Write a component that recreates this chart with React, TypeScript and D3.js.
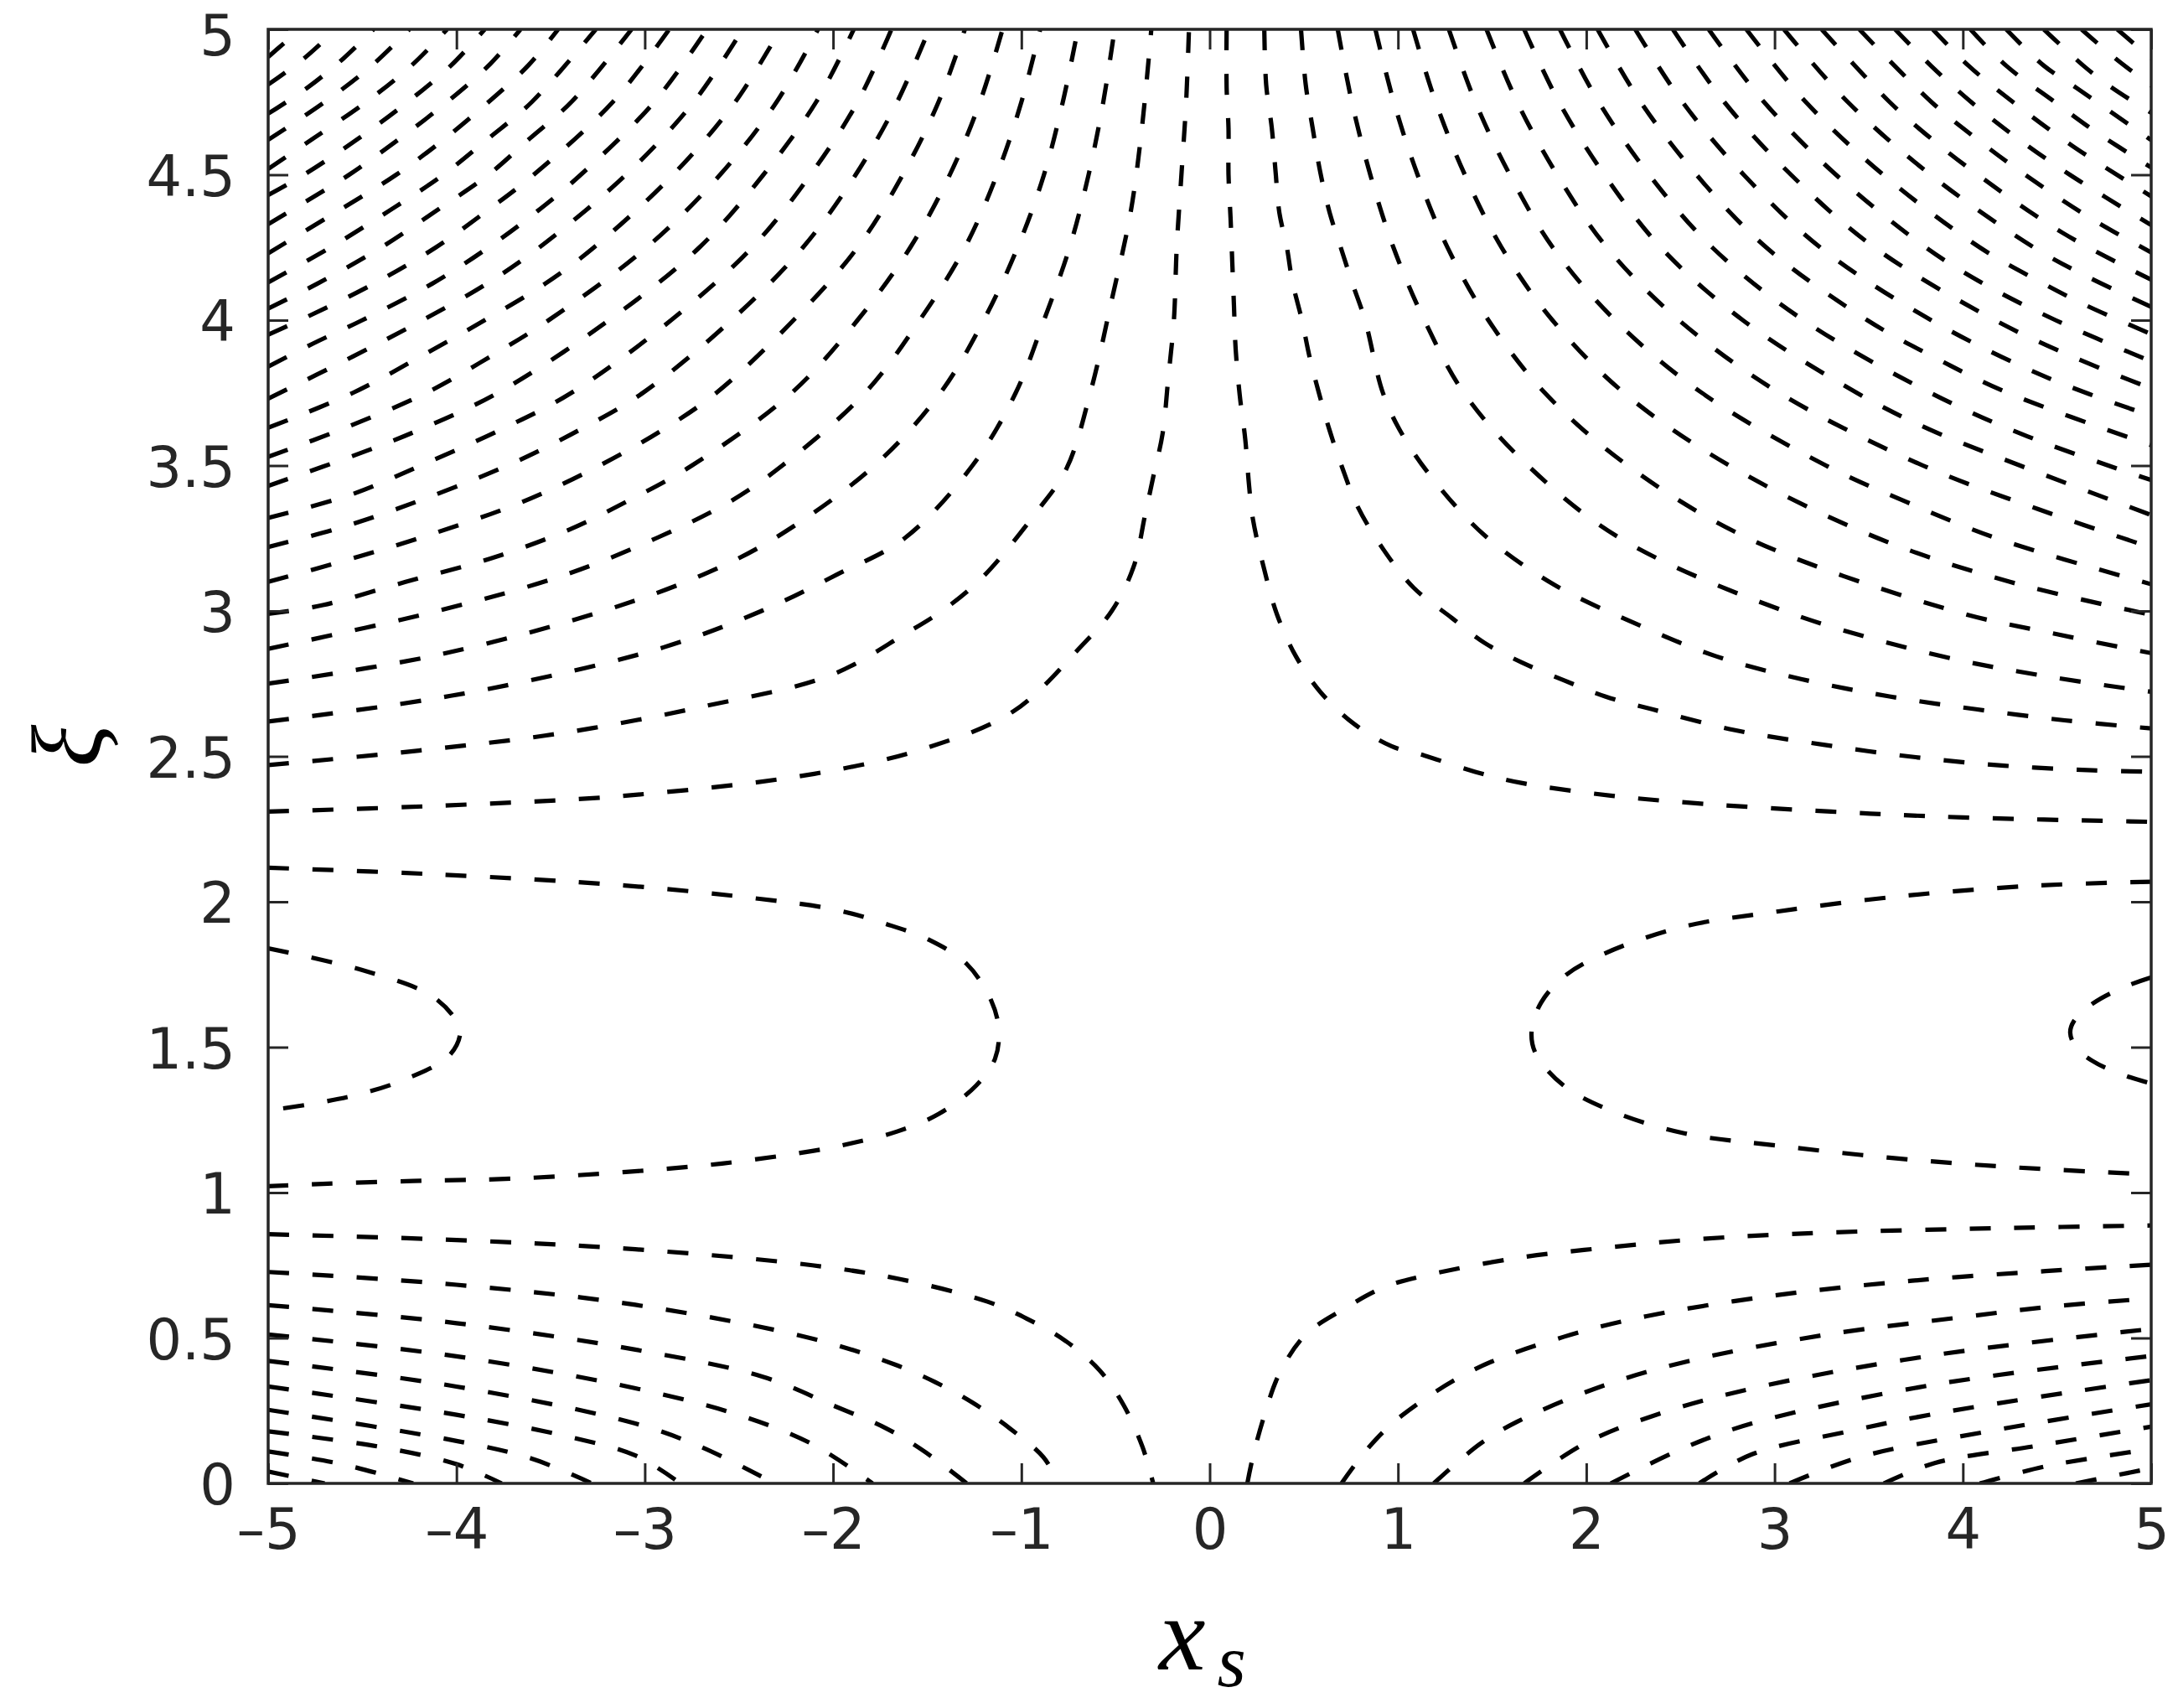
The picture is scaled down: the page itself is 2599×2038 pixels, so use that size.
import React, { useEffect, useRef } from 'react';
import * as d3 from 'd3';

type Pt = [number, number];

const xTicks = [-5, -4, -3, -2, -1, 0, 1, 2, 3, 4, 5];
const yTicks = [0, 0.5, 1, 1.5, 2, 2.5, 3, 3.5, 4, 4.5, 5];
const yTickLabels = ['0', '0.5', '1', '1.5', '2', '2.5', '3', '3.5', '4', '4.5', '5'];

// contour lines, [x_s, xi] pairs
// upper left family: left edge -> top edge
const upperLeftLines: Pt[][] = [
  [[-5, 2.31], [-4.1, 2.33], [-3.1, 2.365], [-2.1, 2.44], [-1.5, 2.53], [-1.04, 2.656], [-0.685, 2.877], [-0.52, 3.0], [-0.405, 3.15], [-0.343, 3.33], [-0.3, 3.46], [-0.25, 3.61], [-0.22, 3.8], [-0.19, 4.0], [-0.175, 4.25], [-0.15, 4.5], [-0.125, 4.75], [-0.11, 5]],
  [[-5, 2.47], [-4.2, 2.52], [-3.44, 2.58], [-2.7, 2.67], [-2.01, 2.78], [-1.62, 2.92], [-1.4, 3.01], [-1.2, 3.12], [-0.92, 3.34], [-0.76, 3.49], [-0.63, 3.76], [-0.52, 4.07], [-0.42, 4.37], [-0.36, 4.66], [-0.31, 5]],
  [[-5, 2.62], [-4.3, 2.68], [-3.69, 2.75], [-2.9, 2.875], [-2.38, 3.0], [-1.98, 3.125], [-1.62, 3.25], [-1.26, 3.5], [-1.03, 3.75], [-0.88, 4.0], [-0.744, 4.25], [-0.643, 4.5], [-0.565, 4.75], [-0.505, 5]],
  [[-5, 2.75], [-4.09, 2.85], [-3.22, 3.0], [-2.69, 3.125], [-2.31, 3.25], [-1.78, 3.5], [-1.43, 3.75], [-1.2, 4.0], [-1.02, 4.25], [-0.88, 4.5], [-0.78, 4.75], [-0.7, 5]],
  [[-5, 2.87], [-4.1, 3.0], [-3.42, 3.125], [-2.94, 3.25], [-2.55, 3.375], [-2.27, 3.5], [-1.83, 3.75], [-1.54, 4.0], [-1.3, 4.25], [-1.13, 4.5], [-1.0, 4.75], [-0.9, 5]],
  [[-5, 2.99], [-4.71, 3.02], [-4.27, 3.1], [-3.82, 3.18], [-3.4, 3.28], [-3.1, 3.375], [-2.75, 3.5], [-2.22, 3.75], [-1.87, 4.0], [-1.59, 4.25], [-1.38, 4.5], [-1.22, 4.75], [-1.1, 5]],
  [[-5, 3.1], [-4.61, 3.17], [-4.2, 3.25], [-3.65, 3.375], [-3.24, 3.5], [-2.9, 3.625], [-2.62, 3.75], [-2.21, 4.0], [-1.87, 4.25], [-1.63, 4.5], [-1.44, 4.75], [-1.3, 5]],
  [[-5, 3.22], [-4.65, 3.28], [-4.32, 3.35], [-3.73, 3.5], [-3.34, 3.625], [-3.01, 3.75], [-2.54, 4.0], [-2.16, 4.25], [-1.88, 4.5], [-1.66, 4.75], [-1.49, 5]],
  [[-5, 3.32], [-4.56, 3.4], [-4.19, 3.5], [-3.76, 3.625], [-3.39, 3.75], [-2.86, 4.0], [-2.43, 4.25], [-2.12, 4.5], [-1.87, 4.75], [-1.69, 5]],
  [[-5, 3.43], [-4.48, 3.55], [-4.19, 3.625], [-3.78, 3.75], [-3.19, 4.0], [-2.71, 4.25], [-2.37, 4.5], [-2.09, 4.75], [-1.89, 5]],
  [[-5, 3.53], [-4.61, 3.625], [-4.16, 3.75], [-3.82, 3.875], [-3.51, 4.0], [-2.99, 4.25], [-2.6, 4.5], [-2.3, 4.75], [-2.08, 5]],
  [[-5, 3.63], [-4.55, 3.75], [-4.19, 3.875], [-3.85, 4.0], [-3.53, 4.125], [-3.27, 4.25], [-2.85, 4.5], [-2.52, 4.75], [-2.28, 5]],
  [[-5, 3.73], [-4.55, 3.875], [-4.18, 4.0], [-3.84, 4.125], [-3.56, 4.25], [-3.1, 4.5], [-2.74, 4.75], [-2.48, 5]],
  [[-5, 3.84], [-4.76, 3.92], [-4.5, 4.0], [-4.13, 4.125], [-3.83, 4.25], [-3.57, 4.375], [-3.34, 4.5], [-2.95, 4.75], [-2.67, 5]],
  [[-5, 3.95], [-4.83, 4.0], [-4.44, 4.125], [-4.11, 4.25], [-3.84, 4.375], [-3.59, 4.5], [-3.17, 4.75], [-2.87, 5]],
  [[-5, 4.04], [-4.74, 4.125], [-4.4, 4.25], [-4.11, 4.375], [-3.83, 4.5], [-3.61, 4.625], [-3.39, 4.75], [-3.07, 5]],
  [[-5, 4.13], [-4.67, 4.25], [-4.36, 4.375], [-4.07, 4.5], [-3.83, 4.625], [-3.6, 4.75], [-3.26, 5]],
  [[-5, 4.23], [-4.63, 4.375], [-4.32, 4.5], [-4.06, 4.625], [-3.83, 4.75], [-3.62, 4.875], [-3.46, 5]],
  [[-5, 4.33], [-4.82, 4.4], [-4.57, 4.5], [-4.3, 4.625], [-4.05, 4.75], [-3.83, 4.875], [-3.66, 5]],
  [[-5, 4.43], [-4.81, 4.5], [-4.52, 4.625], [-4.26, 4.75], [-4.03, 4.875], [-3.85, 5]],
  [[-5, 4.52], [-4.76, 4.625], [-4.48, 4.75], [-4.24, 4.875], [-4.05, 5]],
  [[-5, 4.62], [-4.7, 4.75], [-4.45, 4.875], [-4.25, 5]],
  [[-5, 4.71], [-4.79, 4.8], [-4.6, 4.9], [-4.44, 5]],
  [[-5, 4.81], [-4.81, 4.9], [-4.64, 5]],
  [[-5, 4.905], [-4.92, 4.95], [-4.83, 5]],
];

// upper right family: top edge -> right edge
const upperRightLines: Pt[][] = [
  [[0.09, 5], [0.09, 4.8], [0.1, 4.66], [0.1, 4.5], [0.111, 4.35], [0.12, 4.2], [0.129, 4.05], [0.138, 3.9], [0.16, 3.74], [0.189, 3.59], [0.209, 3.433], [0.229, 3.318], [0.29, 3.142], [0.358, 2.987], [0.458, 2.844], [0.587, 2.722], [0.766, 2.612], [0.966, 2.535], [1.14, 2.503], [1.41, 2.447], [1.66, 2.408], [2.13, 2.365], [2.62, 2.337], [3.3, 2.31], [4.0, 2.29], [5, 2.275]],
  [[0.29, 5], [0.3, 4.81], [0.33, 4.66], [0.35, 4.51], [0.37, 4.37], [0.41, 4.25], [0.44, 4.13], [0.49, 4.0], [0.53, 3.875], [0.58, 3.75], [0.635, 3.625], [0.7, 3.5], [0.785, 3.36], [0.924, 3.21], [1.083, 3.08], [1.286, 2.976], [1.46, 2.89], [1.657, 2.823], [1.88, 2.762], [2.1, 2.706], [2.35, 2.662], [2.79, 2.59], [3.26, 2.54], [3.75, 2.497], [4.22, 2.468], [4.69, 2.452], [5, 2.447]],
  [[0.485, 5], [0.51, 4.81], [0.547, 4.66], [0.587, 4.51], [0.637, 4.37], [0.696, 4.25], [0.756, 4.13], [0.825, 4.0], [0.92, 3.75], [1.02, 3.61], [1.19, 3.45], [1.46, 3.26], [1.83, 3.09], [2.25, 2.96], [2.69, 2.844], [3.14, 2.766], [3.61, 2.706], [4.07, 2.662], [4.54, 2.624], [5, 2.596]],
  [[0.68, 5], [0.755, 4.75], [0.853, 4.5], [0.976, 4.25], [1.14, 4.0], [1.35, 3.75], [1.69, 3.5], [2.18, 3.25], [3.05, 3.0], [3.85, 2.85], [4.4, 2.78], [5, 2.722]],
  [[0.88, 5], [0.978, 4.75], [1.104, 4.5], [1.263, 4.25], [1.48, 4.0], [1.78, 3.75], [2.22, 3.5], [2.86, 3.25], [3.95, 3.0], [4.5, 2.92], [5, 2.855]],
  [[1.08, 5], [1.2, 4.75], [1.355, 4.5], [1.55, 4.25], [1.82, 4.0], [2.2, 3.75], [2.76, 3.5], [3.55, 3.25], [4.25, 3.1], [5, 2.987]],
  [[1.27, 5], [1.411, 4.75], [1.594, 4.5], [1.822, 4.25], [2.153, 4.0], [2.614, 3.75], [3.273, 3.5], [3.7, 3.375], [4.178, 3.25], [5, 3.092]],
  [[1.47, 5], [1.633, 4.75], [1.845, 4.5], [2.109, 4.25], [2.492, 4.0], [3.025, 3.75], [3.788, 3.5], [4.4, 3.35], [5, 3.218]],
  [[1.67, 5], [1.855, 4.75], [2.096, 4.5], [2.396, 4.25], [2.831, 4.0], [3.437, 3.75], [3.82, 3.625], [4.304, 3.5], [5, 3.33]],
  [[1.86, 5], [2.066, 4.75], [2.334, 4.5], [2.669, 4.25], [3.153, 4.0], [3.828, 3.75], [4.345, 3.6], [5, 3.45]],
  [[2.06, 5], [2.289, 4.75], [2.585, 4.5], [2.956, 4.25], [3.492, 4.0], [3.84, 3.875], [4.239, 3.75], [5, 3.57]],
  [[2.26, 5], [2.511, 4.75], [2.836, 4.5], [3.243, 4.25], [3.831, 4.0], [4.457, 3.8], [5, 3.671]],
  [[2.46, 5], [2.733, 4.75], [3.087, 4.5], [3.53, 4.25], [4.17, 4.0], [4.58, 3.875], [5, 3.765]],
  [[2.65, 5], [2.944, 4.75], [3.326, 4.5], [3.803, 4.25], [4.11, 4.125], [4.492, 4.0], [5, 3.858]],
  [[2.85, 5], [3.166, 4.75], [3.577, 4.5], [4.09, 4.25], [4.43, 4.125], [4.657, 4.05], [5, 3.952]],
  [[3.05, 5], [3.389, 4.75], [3.828, 4.5], [4.377, 4.25], [4.66, 4.15], [5, 4.046]],
  [[3.25, 5], [3.611, 4.75], [3.83, 4.625], [4.079, 4.5], [4.53, 4.3], [5, 4.139]],
  [[3.45, 5], [3.833, 4.75], [4.07, 4.625], [4.33, 4.5], [4.68, 4.35], [5, 4.233]],
  [[3.64, 5], [3.83, 4.875], [4.044, 4.75], [4.29, 4.625], [4.568, 4.5], [5, 4.327]],
  [[3.84, 5], [4.03, 4.875], [4.266, 4.75], [4.58, 4.6], [5, 4.426]],
  [[4.04, 5], [4.23, 4.875], [4.488, 4.75], [4.7, 4.65], [5, 4.525]],
  [[4.23, 5], [4.43, 4.875], [4.6, 4.8], [5, 4.619]],
  [[4.43, 5], [4.64, 4.875], [4.79, 4.8], [5, 4.713]],
  [[4.63, 5], [4.81, 4.9], [5, 4.806]],
  [[4.82, 5], [4.91, 4.95], [5, 4.9]],
];

// lobes that open onto the side edges
const sideLobes: Pt[][] = [
  [[-5, 2.117], [-4.1, 2.094], [-3.105, 2.056], [-2.39, 2.01], [-1.99, 1.973], [-1.72, 1.924], [-1.49, 1.869], [-1.29, 1.786], [-1.16, 1.66], [-1.12, 1.56], [-1.14, 1.46], [-1.24, 1.368], [-1.44, 1.27], [-1.66, 1.21], [-1.9, 1.17], [-2.11, 1.143], [-2.59, 1.1], [-3.1, 1.071], [-3.7, 1.048], [-4.23, 1.04], [-4.71, 1.03], [-5, 1.022]],
  [[-5, 1.84], [-4.5, 1.765], [-4.14, 1.68], [-4.01, 1.6], [-3.98, 1.55], [-4.04, 1.47], [-4.29, 1.385], [-4.53, 1.336], [-4.75, 1.307], [-5, 1.282]],
  [[5, 2.069], [4.4, 2.056], [3.71, 2.022], [3.02, 1.967], [2.5, 1.912], [2.08, 1.817], [1.88, 1.742], [1.76, 1.653], [1.71, 1.56], [1.73, 1.48], [1.88, 1.368], [2.13, 1.282], [2.52, 1.204], [3.02, 1.161], [3.61, 1.12], [4.22, 1.089], [5, 1.062]],
  [[5, 1.74], [4.85, 1.705], [4.69, 1.65], [4.59, 1.59], [4.57, 1.55], [4.6, 1.5], [4.69, 1.452], [4.85, 1.405], [5, 1.375]],
];

// lower left family: left edge -> bottom edge
const lowerLeftLines: Pt[][] = [
  [[-5, 0.857], [-4, 0.837], [-3.05, 0.805], [-2.11, 0.75], [-1.65, 0.703], [-1.18, 0.625], [-0.97, 0.566], [-0.77, 0.492], [-0.585, 0.389], [-0.456, 0.268], [-0.356, 0.124], [-0.3, 0]],
  [[-5, 0.727], [-4, 0.683], [-3.05, 0.614], [-2.11, 0.498], [-1.677, 0.41], [-1.46, 0.349], [-1.26, 0.278], [-1.063, 0.19], [-0.883, 0.09], [-0.8, 0]],
  [[-5, 0.613], [-4, 0.551], [-3.05, 0.46], [-2.37, 0.366], [-2.0, 0.268], [-1.72, 0.19], [-1.52, 0.112], [-1.29, 0]],
  [[-5, 0.512], [-4, 0.437], [-3.05, 0.327], [-2.5, 0.235], [-2.11, 0.135], [-1.79, 0]],
  [[-5, 0.421], [-4, 0.333], [-3.05, 0.206], [-2.7, 0.125], [-2.31, 0]],
  [[-5, 0.333], [-4, 0.236], [-3.4, 0.16], [-3.05, 0.096], [-2.81, 0]],
  [[-5, 0.253], [-4, 0.146], [-3.6, 0.085], [-3.28, 0]],
  [[-5, 0.179], [-4.4, 0.125], [-4, 0.066], [-3.76, 0]],
  [[-5, 0.11], [-4.6, 0.065], [-4.23, 0]],
  [[-5, 0.041], [-4.7, 0]],
];

// lower right family: bottom edge -> right edge
const lowerRightLines: Pt[][] = [
  [[0.2, 0], [0.229, 0.09], [0.29, 0.233], [0.37, 0.377], [0.507, 0.51], [0.705, 0.597], [0.924, 0.674], [1.14, 0.714], [1.633, 0.775], [2.126, 0.812], [2.62, 0.841], [3.26, 0.862], [4.22, 0.878], [5, 0.887]],
  [[0.7, 0], [0.845, 0.124], [1.02, 0.233], [1.41, 0.393], [1.88, 0.504], [2.32, 0.575], [3.02, 0.648], [3.73, 0.697], [4.44, 0.73], [5, 0.752]],
  [[1.19, 0], [1.434, 0.135], [1.633, 0.212], [2.077, 0.333], [2.545, 0.421], [3.26, 0.51], [3.975, 0.57], [4.47, 0.608], [5, 0.636]],
  [[1.67, 0], [2.0, 0.14], [2.39, 0.24], [2.94, 0.335], [3.89, 0.445], [5, 0.531]],
  [[2.13, 0], [2.53, 0.125], [2.9, 0.21], [3.85, 0.34], [5, 0.438]],
  [[2.6, 0], [2.88, 0.1], [3.4, 0.18], [3.9, 0.245], [5, 0.355]],
  [[3.08, 0], [3.45, 0.09], [4.1, 0.175], [5, 0.272]],
  [[3.58, 0], [3.85, 0.07], [4.4, 0.13], [5, 0.195]],
  [[4.09, 0], [4.45, 0.06], [5, 0.118]],
  [[4.6, 0], [5, 0.052]],
];

const App = () => {
  const chartRef = useRef<SVGSVGElement>(null);

  useEffect(() => {
    if (!chartRef.current) return;
    const width = 2599;
    const height = 2038;
    const marginLeft = 320;
    const marginRight = 32;
    const marginTop = 35;
    const marginBottom = 268;
    const axisColor = '#262626';
    const tickLen = 24;

    const x = d3.scaleLinear().domain([-5, 5]).range([marginLeft, width - marginRight]);
    const y = d3.scaleLinear().domain([0, 5]).range([height - marginBottom, marginTop]);

    const svg = d3.select(chartRef.current)
      .attr('width', width)
      .attr('height', height)
      .attr('viewBox', [0, 0, width, height]);
    svg.selectAll('*').remove();

    svg.append('rect').attr('width', width).attr('height', height).attr('fill', '#fff');

    svg.append('clipPath').attr('id', 'plot-clip')
      .append('rect')
      .attr('x', x(-5)).attr('y', y(5))
      .attr('width', x(5) - x(-5)).attr('height', y(0) - y(5));

    const line = d3.line<Pt>()
      .x(d => x(d[0]))
      .y(d => y(d[1]))
      .curve(d3.curveCatmullRom.alpha(0.5));

    const allLines = [
      ...upperLeftLines, ...upperRightLines, ...sideLobes,
      ...lowerLeftLines, ...lowerRightLines,
    ];

    svg.append('g')
      .attr('clip-path', 'url(#plot-clip)')
      .selectAll('path')
      .data(allLines)
      .join('path')
      .attr('d', d => line(d))
      .attr('fill', 'none')
      .attr('stroke', '#000')
      .attr('stroke-width', 5.2)
      .attr('stroke-dasharray', '25 28')
      .attr('stroke-linecap', 'butt');

    const styleAxis = (g: any) => {
      g.select('.domain').remove();
      g.selectAll('.tick line').attr('stroke', axisColor).attr('stroke-width', 3);
      g.selectAll('.tick text')
        .attr('fill', axisColor)
        .style('font-family', '"DejaVu Sans", sans-serif')
        .style('font-size', '67px');
    };

    svg.append('g')
      .attr('transform', `translate(0,${y(0)})`)
      .call(d3.axisBottom(x).tickValues(xTicks).tickSize(-tickLen).tickPadding(30)
        .tickFormat(d => (+d < 0 ? `\u2013${Math.abs(+d)}` : `${d}`)))
      .call(styleAxis);

    svg.append('g')
      .attr('transform', `translate(0,${y(5)})`)
      .call(d3.axisTop(x).tickValues(xTicks).tickSize(-tickLen).tickFormat(() => ''))
      .call(styleAxis);

    svg.append('g')
      .attr('transform', `translate(${x(-5)},0)`)
      .call(d3.axisLeft(y).tickValues(yTicks).tickSize(-tickLen).tickPadding(39)
        .tickFormat((_d, i) => yTickLabels[i]))
      .call(styleAxis)
      // centre the digits on the ticks; the top label sits a little lower, as in the figure
      .call(g => g.selectAll('.tick text').attr('dy', (d: any) => (+d === 5 ? '0.46em' : '0.37em')));

    svg.append('g')
      .attr('transform', `translate(${x(5)},0)`)
      .call(d3.axisRight(y).tickValues(yTicks).tickSize(-tickLen).tickFormat(() => ''))
      .call(styleAxis);

    svg.append('rect')
      .attr('x', x(-5)).attr('y', y(5))
      .attr('width', x(5) - x(-5)).attr('height', y(0) - y(5))
      .attr('fill', 'none')
      .attr('stroke', axisColor)
      .attr('stroke-width', 3.5);

    // axis titles
    const xLabel = svg.append('text')
      .attr('x', 1383)
      .attr('y', 1992)
      .attr('fill', '#000')
      .style('font-family', '"Liberation Serif", "DejaVu Serif", serif')
      .style('font-style', 'italic')
      .style('font-size', '125px')
      .text('x');
    xLabel.append('tspan')
      .attr('dx', 14)
      .attr('dy', 20)
      .style('font-size', '88px')
      .text('s');

    svg.append('text')
      .attr('transform', 'translate(120,890) rotate(-90)')
      .attr('text-anchor', 'middle')
      .attr('fill', '#000')
      .style('font-family', '"Liberation Serif", "DejaVu Serif", serif')
      .style('font-style', 'italic')
      .style('font-size', '118px')
      .text('\u03be');
  }, []);

  return <svg ref={chartRef} style={{ position: 'absolute', left: 0, top: 0, display: 'block' }} />;
};

export default App;
